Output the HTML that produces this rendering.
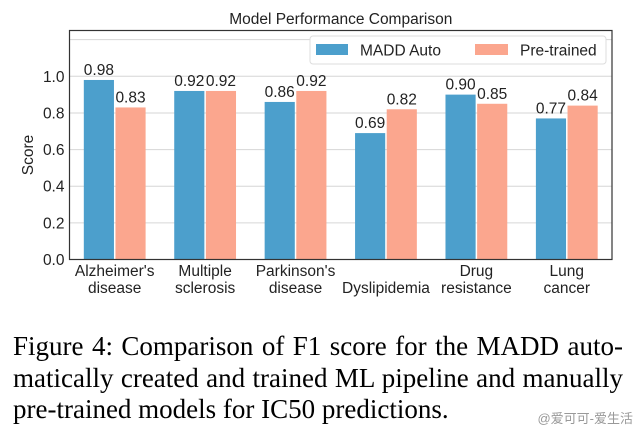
<!DOCTYPE html>
<html><head><meta charset="utf-8"><style>
body{margin:0;background:#fff;width:639px;height:436px;overflow:hidden;position:relative}
svg text{font-family:"Liberation Sans",sans-serif}
.cap{position:absolute;left:13px;top:331px;width:610px;font-family:"Liberation Serif",serif;font-size:27px;line-height:31.5px;color:#000;white-space:nowrap}
.cap div.j{text-align:justify;text-align-last:justify}
.wm{position:absolute;right:6px;top:408px;font-family:"Liberation Sans","Noto Sans CJK SC",sans-serif;font-size:13px;color:#999}
</style></head><body>
<svg id="chart" width="639" height="310" style="position:absolute;left:0;top:0"></svg>
<div class="cap"><div class="j">Figure 4: Comparison of F1 score for the MADD auto-</div><div class="j">matically created and trained ML pipeline and manually</div><div>pre-trained models for IC50 predictions.</div></div>
<div class="wm">@爱可可-爱生活</div>
<script>
const categories=[["Alzheimer's","disease"],["Multiple","sclerosis"],["Parkinson's","disease"],["Dyslipidemia"],["Drug","resistance"],["Lung","cancer"]];
const maddAuto=[0.98,0.92,0.86,0.69,0.90,0.77];
const preTrained=[0.83,0.92,0.92,0.82,0.85,0.84];
const yTicks=[0.0,0.2,0.4,0.6,0.8,1.0,1.2];
const yTickLabels=["0.0","0.2","0.4","0.6","0.8","1.0",""];
const NS="http://www.w3.org/2000/svg";
const svg=document.getElementById('chart');
const L=69.5,R=612,T=30.5,B=259.5,yMax=1.25;
const y=v=>B-(v/yMax)*(B-T);
const bw=(R-L)/categories.length;
const x=i=>L+bw*(i+0.5);
function mk(t,a,txt){const e=document.createElementNS(NS,t);for(const k in a)e.setAttribute(k,a[k]);if(txt!==undefined)e.textContent=txt;svg.appendChild(e);return e;}
yTicks.forEach((v,i)=>{
 const g=mk('line',{x1:L,x2:R,y1:y(v),y2:y(v),stroke:'#d6d6d6','stroke-width':1});
 
 
 if(yTickLabels[i]){const t=mk('text',{x:L-5,y:y(v)+5.5,'text-anchor':'end','font-size':15.5,fill:'#222'},yTickLabels[i]);
 
 }
});
const barW=bw*0.35;
function drawBars(vals,off,color,name){
 vals.forEach((v,i)=>{
  const bx=x(i)+off*barW-barW/2;
  const r=mk('rect',{x:bx+0.75,y:y(v),width:barW-1.5,height:B-y(v),fill:color});
  
  
  const t=mk('text',{x:x(i)+off*barW,y:y(v)-5,'text-anchor':'middle','font-size':15.5,fill:'#222'},v.toFixed(2));
  
  
 });
}
drawBars(maddAuto,-0.5,'#4c9fcc','madd-auto');
drawBars(preTrained,0.5,'#fba68e','pre-trained');
categories.forEach((c,i)=>{
 c.forEach((ln,j)=>{
  const t=mk('text',{x:x(i),y:(c.length==1?293:276+j*17),'text-anchor':'middle','font-size':15.5,fill:'#222'},ln);
  
  
 });
});
const fr=mk('rect',{x:L,y:T,width:R-L,height:B-T,fill:'none',stroke:'#333','stroke-width':1.2});


const yt=mk('text',{x:33,y:(T+B)/2+10,'text-anchor':'middle','font-size':15.5,fill:'#222',transform:`rotate(-90 33 ${(T+B)/2+10})`},'Score');


const tt=mk('text',{x:(L+R)/2,y:24,'text-anchor':'middle','font-size':15.5,fill:'#222'},'Model Performance Comparison');


const lg=mk('rect',{x:310,y:36,width:296,height:28,rx:3,fill:'#fff',stroke:'#ddd'});


const p1=mk('rect',{x:316,y:44,width:32,height:11,fill:'#4c9fcc'});


const l1=mk('text',{x:360,y:55.5,'font-size':15.5,fill:'#222'},'MADD Auto');


const p2=mk('rect',{x:475,y:44,width:33,height:11,fill:'#fba68e'});


const l2=mk('text',{x:520,y:55.5,'font-size':15.5,fill:'#222'},'Pre-trained');


</script>
</body></html>
